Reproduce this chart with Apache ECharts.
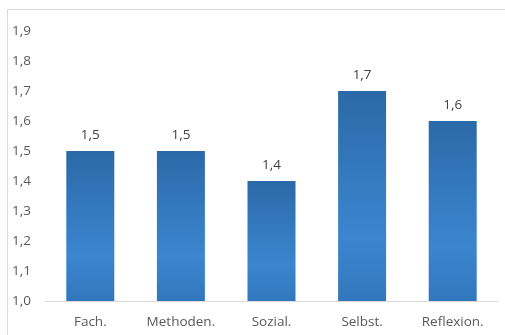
<!DOCTYPE html>
<html>
<head>
<meta charset="utf-8">
<script src="https://cdn.jsdelivr.net/npm/echarts@6/dist/echarts.min.js"></script>
<style>
  html, body { margin: 0; padding: 0; background: #fff; }
  #chart { width: 505px; height: 335px; }
</style>
</head>
<body>
<div id="chart"></div>
<script>
// categories and values
var categories = ["Fach.", "Methoden.", "Sozial.", "Selbst.", "Reflexion."];
var values = [1.5, 1.5, 1.4, 1.7, 1.6];

var chart = echarts.init(document.getElementById("chart"));
var fmt = function (v) { return Number(v).toFixed(1).replace(".", ","); };

// darker at the top, lighter lower down, as in the picture
var barColor = new echarts.graphic.LinearGradient(0, 0, 0, 1, [
  { offset: 0, color: "#2b69a8" },
  { offset: 0.7, color: "#3b86cf" },
  { offset: 1, color: "#3277bd" }
]);

var option = {
  animation: false,
  textStyle: { fontFamily: "Open Sans", color: "#595959" },
  graphic: [{
    type: "rect",
    shape: { x: 7.5, y: 9.5, width: 510, height: 340 },
    style: { fill: "none", stroke: "#d9d9d9", lineWidth: 1 },
    silent: true
  }],
  grid: { left: 45, right: 7, top: 31, bottom: 34 },
  xAxis: {
    type: "category",
    data: categories,
    axisLine: { lineStyle: { color: "#d9d9d9", width: 1 } },
    axisTick: { show: false },
    axisLabel: { color: "#595959", fontSize: 13.5, margin: 14 }
  },
  yAxis: {
    type: "value",
    min: 1.0,
    max: 1.9,
    interval: 0.1,
    axisLine: { show: false },
    axisTick: { show: false },
    splitLine: { show: false },
    axisLabel: {
      color: "#595959",
      fontSize: 13.5,
      align: "left",
      margin: 33,
      formatter: fmt
    }
  },
  series: [{
    type: "bar",
    data: values,
    barWidth: 48,
    itemStyle: { color: barColor },
    label: {
      show: true,
      position: "top",
      distance: 9,
      color: "#404040",
      fontSize: 13.5,
      formatter: function (p) { return fmt(p.value); }
    }
  }]
};
chart.setOption(option);
</script>
</body>
</html>
